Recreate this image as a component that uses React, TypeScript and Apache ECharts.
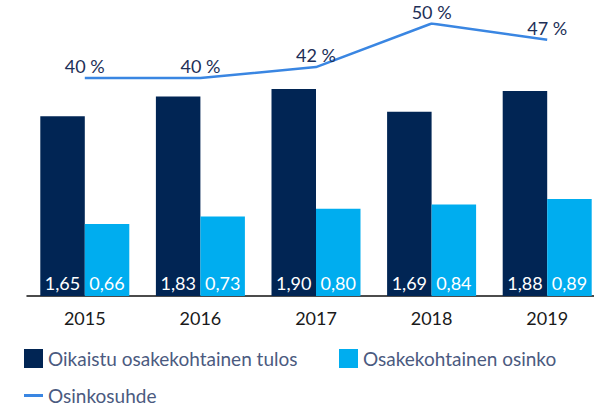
import React, { useEffect, useRef } from "react";
import * as echarts from "echarts";

const years = ["2015", "2016", "2017", "2018", "2019"];
const eps = [1.65, 1.83, 1.9, 1.69, 1.88];
const dps = [0.66, 0.73, 0.8, 0.84, 0.89];
const payout = [40, 40, 42, 50, 47];
const seriesNames = ["Oikaistu osakekohtainen tulos", "Osakekohtainen osinko", "Osinkosuhde"];

const FONT = "Lato, 'Noto Sans', sans-serif";
const fmt = (v: number) => v.toFixed(2).replace(".", ",");

export default function App() {
  const ref = useRef<HTMLDivElement>(null);
  useEffect(() => {
    if (!ref.current) return;
    const chart = echarts.init(ref.current, undefined, { renderer: "svg" });
    const legendText = { color: "#4b5a80", fontSize: 19, fontFamily: FONT };
    chart.setOption({
      animation: false,
      backgroundColor: "#ffffff",
      textStyle: { fontFamily: FONT },
      grid: { left: 27, right: 0, top: 23.5, bottom: 112, containLabel: false },
      legend: [
        {
          data: [seriesNames[0]],
          left: 24, top: 349, itemWidth: 19, itemHeight: 19, itemGap: 0,
          icon: "rect", textStyle: legendText, padding: 0,
        },
        {
          data: [seriesNames[1]],
          left: 339, top: 349, itemWidth: 19, itemHeight: 19, itemGap: 0,
          icon: "rect", textStyle: legendText, padding: 0,
        },
        {
          data: [{ name: seriesNames[2], icon: "rect" }],
          left: 24, top: 386, itemWidth: 19, itemHeight: 3, itemGap: 0,
          textStyle: legendText, padding: 0,
        },
      ],
      xAxis: {
        type: "category",
        data: years,
        axisLine: { lineStyle: { color: "#111111", width: 1.5 } },
        axisTick: { show: false },
        axisLabel: { color: "#1a1a1a", fontSize: 18, fontFamily: FONT, margin: 13 },
      },
      yAxis: [
        { type: "value", min: 0, max: 2.5, show: false, splitLine: { show: false } },
        { type: "value", min: 0, max: 50, show: false, splitLine: { show: false } },
      ],
      series: [
        {
          name: seriesNames[0],
          type: "bar",
          data: eps,
          barWidth: 44.5,
          barGap: "0%",
          itemStyle: { color: "#012554" },
          label: {
            show: true, position: "insideBottom", distance: 4,
            color: "#ffffff", fontSize: 18, fontFamily: FONT,
            formatter: (p: any) => fmt(p.value),
          },
        },
        {
          name: seriesNames[1],
          type: "bar",
          data: dps,
          barWidth: 44.5,
          barGap: "0%",
          itemStyle: { color: "#00adef" },
          label: {
            show: true, position: "insideBottom", distance: 4,
            color: "#ffffff", fontSize: 18, fontFamily: FONT,
            formatter: (p: any) => fmt(p.value),
          },
        },
        {
          name: seriesNames[2],
          type: "line",
          yAxisIndex: 1,
          data: payout,
          symbol: "circle",
          symbolSize: 0,
          showSymbol: true,
          lineStyle: { color: "#3a86e2", width: 2.5 },
          itemStyle: { color: "#3a86e2" },
          label: {
            show: true, position: "top", distance: 3,
            color: "#1d2f57", fontSize: 18, fontFamily: FONT,
            formatter: (p: any) => `${p.value} %`,
          },
        },
      ],
    });
    return () => chart.dispose();
  }, []);
  return (
    <div style={{ position: "absolute", left: 0, top: 0, width: 594, height: 408, overflow: "hidden" }}>
      <div ref={ref} style={{ width: 605, height: 408 }} />
    </div>
  );
}
